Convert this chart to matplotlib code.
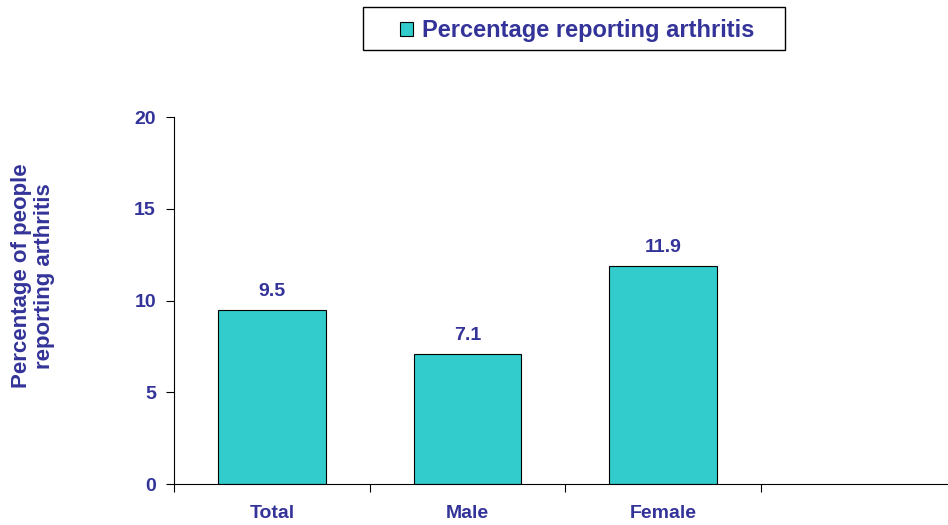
import matplotlib.pyplot as plt
from matplotlib.patches import Patch, Rectangle

# data
categories = ['Total', 'Male', 'Female']
values = [9.5, 7.1, 11.9]
legend_label = 'Percentage reporting arthritis'
ylabel = 'Percentage of people\nreporting arthritis'

txt = '#333399'
bar_col = '#33CCCC'

plt.rcParams['font.family'] = ['Liberation Sans', 'DejaVu Sans']
plt.rcParams['font.weight'] = 'bold'

W, H = 948, 525
fig = plt.figure(figsize=(W / 100, H / 100), dpi=100)
ax = fig.add_axes([0.1835, 0.078, 0.8155, 0.699])

x = list(range(len(categories)))
bars = ax.bar(x, values, width=0.55, color=bar_col, edgecolor='black', linewidth=0.8)

# value labels
for xi, v in zip(x, values):
    ax.text(xi, v + 0.55, f'{v:.1f}', ha='center', va='bottom',
            fontsize=14, fontweight='bold', color=txt)

ax.set_xlim(-0.5, 3.45)
ax.set_ylim(0, 20)
ax.set_yticks([0, 5, 10, 15, 20])

# category boundaries get the tick marks, labels sit in between
ax.set_xticks([-0.5, 0.5, 1.5, 2.5])
ax.set_xticklabels([])
ax.set_xticks(x, minor=True)
ax.set_xticklabels(categories, minor=True, fontsize=14, fontweight='bold',
                   color=txt)
ax.tick_params(axis='x', which='major', length=6, direction='out')
ax.tick_params(axis='x', which='minor', length=0, pad=15)
ax.tick_params(axis='y', length=6, direction='out', pad=7,
               labelsize=14, labelcolor=txt)
for lab in ax.get_yticklabels():
    lab.set_fontweight('bold')

ax.spines['top'].set_visible(False)
ax.spines['right'].set_visible(False)

fig.text(0.035, 0.474, ylabel, rotation=90, ha='center', va='center',
         fontsize=16, fontweight='bold', color=txt, linespacing=1.12)

# legend: entry without frame, frame drawn separately (wider padding)
handle = Patch(facecolor=bar_col, edgecolor='black', linewidth=0.8)
leg = fig.legend([handle], [legend_label], loc='center left',
                 bbox_to_anchor=(400 / W, 1 - 31 / H), frameon=False,
                 handlelength=0.55, handleheight=0.55,
                 handletextpad=0.38, borderpad=0.0, borderaxespad=0.0,
                 prop={'size': 17, 'weight': 'bold'})
for t in leg.get_texts():
    t.set_color(txt)
fig.patches.append(Rectangle((363 / W, 1 - 50 / H), 422 / W, 43 / H,
                             transform=fig.transFigure, fill=False,
                             edgecolor='black', linewidth=1.0))

fig.savefig('out.png', dpi=100)
